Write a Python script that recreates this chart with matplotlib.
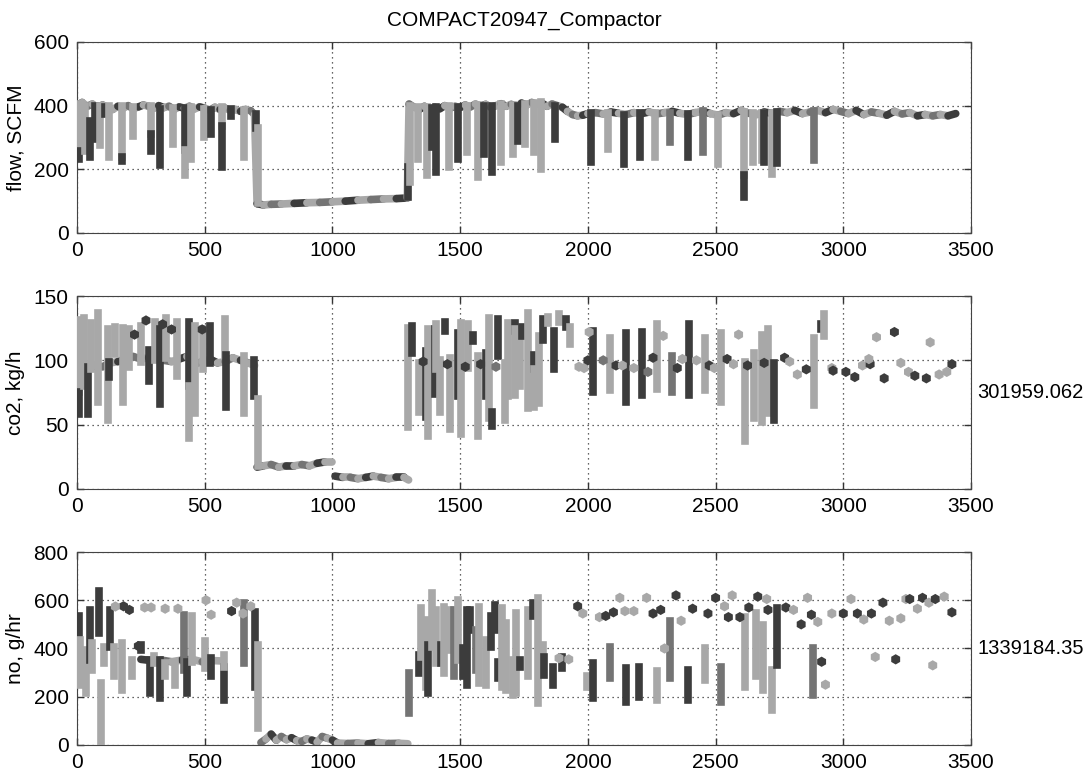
import matplotlib.pyplot as plt
import numpy as np

plt.rcParams['font.family'] = ['Liberation Sans', 'DejaVu Sans']
plt.rcParams['font.size'] = 15

nan = np.nan

# grey shades used for the individual cycles (d=dark, m=medium, l=light)
shade = {'d': '#3c3c3c', 'm': '#747474', 'l': '#a8a8a8'}
cycle = 'dlml'

title = 'COMPACT20947_Compactor'
xticks = [0, 500, 1000, 1500, 2000, 2500, 3000, 3500]

# ---------------- flow, SCFM ----------------
flow_base_x = [0, 20, 40, 60, 80, 100, 120, 140, 160, 180, 200, 220, 240, 260, 280, 300, 320, 340,
               360, 380, 400, 420, 440, 460, 480, 500, 520, 540, 560, 580, 600, 620, 640, 660, 680, 695,
               705, 730, 760, 800, 850, 900, 950, 1000, 1050, 1100, 1150, 1200, 1250, 1293,
               1300, 1320, 1340, 1360, 1380, 1400, 1420, 1440, 1460, 1480, 1500, 1520, 1540, 1560,
               1580, 1600, 1620, 1640, 1660, 1680, 1700, 1720, 1740, 1760, 1780, 1800, 1820, 1840,
               1860, 1880, 1900, 1920, 1940, 1960, 1980, 2000, 2030, 2060, 2090, 2120, 2150, 2180,
               2210, 2240, 2270, 2300, 2330, 2360, 2390, 2420, 2450, 2480, 2510, 2540, 2570, 2600,
               2630, 2660, 2690, 2720, 2750, 2780, 2810, 2840, 2870, 2900, 2930, 2960, 2990, 3020,
               3050, 3080, 3110, 3140, 3170, 3200, 3230, 3260, 3290, 3320, 3350, 3380, 3410, 3440]
flow_base_y = [400, 410, 398, 405, 392, 402, 395, 388, 398, 392, 400, 390, 396, 402, 398, 392, 400, 394,
               398, 388, 396, 392, 398, 390, 396, 392, 386, 395, 388, 392, 385, 388, 382, 388, 384, 372,
               92, 88, 90, 91, 93, 95, 96, 98, 100, 103, 105, 107, 108, 110,
               405, 395, 388, 398, 385, 395, 390, 400, 392, 398, 394, 402, 396, 405,
               398, 404, 395, 400, 406, 398, 404, 396, 408, 402, 410, 404, 408, 398,
               405, 400, 395, 382, 372, 368, 370, 375, 378, 374, 380, 376, 372, 378,
               375, 380, 374, 378, 382, 376, 372, 378, 382, 375, 370, 378, 375, 385,
               376, 372, 380, 376, 382, 378, 385, 375, 380, 385, 378, 388, 382, 375,
               385, 372, 380, 376, 370, 382, 374, 378, 368, 372, 368, 372, 368, 375]
flow_bar_x = [9, 9, 33, 52, 72, 91, 111, 124, 176, 176,
              218, 290, 290, 323, 375, 424, 424, 447, 497, 525,
              567, 567, 602, 655, 702, 708,
              1297, 1302, 1335, 1370, 1388, 1405, 1455, 1490, 1525, 1570,
              1595, 1625, 1660, 1705, 1728, 1755, 1790, 1815, 1870,
              2013, 2080, 2143, 2203, 2263, 2320, 2390, 2450, 2510, 2610,
              2610, 2645, 2680, 2690, 2720, 2740, 2885]
flow_bar_top = [405, 259, 400, 353, 398, 398, 395, 398, 398, 240,
                396, 398, 310, 390, 394, 392, 260, 396, 390, 386,
                395, 335, 388, 385, 375, 330,
                208, 400, 395, 395, 392, 395, 398, 395, 400, 402,
                398, 400, 405, 402, 400, 405, 408, 410, 398,
                378, 376, 372, 376, 376, 378, 375, 382, 372, 380,
                181, 376, 378, 376, 376, 380, 382]
flow_bar_bot = [259, 233, 259, 238, 296, 275, 374, 238, 240, 225,
                306, 310, 259, 212, 280, 260, 181, 233, 301, 311,
                335, 207, 369, 238, 330, 95,
                113, 160, 233, 181, 269, 191, 207, 233, 254, 175,
                249, 191, 222, 249, 290, 280, 254, 201, 296,
                222, 264, 217, 238, 238, 285, 240, 254, 217, 181,
                113, 222, 228, 222, 186, 219, 230]
flow_bar_c = 'ldlddldlld' + 'llddldllld' + 'lddldl' + 'dlllddldll' + 'ddlldllld' + 'dlddlmdmll' + 'dlldldm'

# ---------------- co2, kg/h ----------------
co2_base_x = [40, 70, 100, 130, 160, 190, 220, 250, 280, 310, 340, 370, 400, 430, 460, 490, 520, 550,
              580, 610, 640, 670, 695, 700,
              705, 730, 760, 790, 820, 850, 880, 910, 940, 970, 1000, 1003,
              1010, 1040, 1070, 1100, 1130, 1160, 1190, 1220, 1250, 1280, 1298]
co2_base_y = [93, 96, 95, 98, 99, 101, 103, 101, 102, 103, 100, 99, 101, 103, 97, 99, 101, 98,
              99, 102, 100, 98, 96, nan,
              17, 18, 19, 17, 18, 18, 19, 18, 20, 21, 21, nan,
              10, 9, 9, 8, 9, 10, 9, 8, 9, 9, 7]
co2_bar_x = [9, 9, 26, 41, 56, 83, 120, 124, 150, 180,
             205, 250, 280, 305, 325, 350, 390, 440, 440, 463,
             495, 520, 580, 582, 655, 693, 708,
             1296, 1310, 1340, 1366, 1375, 1400, 1405, 1420, 1440, 1462,
             1492, 1505, 1530, 1550, 1570, 1600, 1613, 1625, 1650, 1675,
             1688, 1713, 1715, 1735, 1743, 1765, 1790, 1790, 1810, 1825,
             1845, 1868, 1885, 1913, 1930,
             2020, 2085, 2150, 2210, 2270, 2330, 2395, 2460, 2520, 2615,
             2650, 2680, 2705, 2730, 2885, 2912, 2925]
co2_bar_top = [131, 75, 133, 95, 129, 137, 124, 99, 126, 125,
               124, 127, 108, 130, 124, 133, 130, 130, 80, 127,
               124, 127, 132, 104, 103, 100, 70,
               125, 127, 98, 107, 124, 124, 128, 100, 130, 102,
               121, 129, 128, 120, 103, 106, 133, 60, 132, 98,
               129, 129, 124, 121, 126, 137, 104, 93, 119, 132,
               134, 123, 136, 132, 126,
               123, 117, 121, 122, 128, 103, 128, 117, 121, 99,
               106, 120, 124, 98, 117, 128, 136]
co2_bar_bot = [75, 58, 80, 58, 93, 68, 54, 87, 105, 68,
               95, 99, 84, 100, 66, 102, 88, 80, 40, 59,
               93, 98, 104, 64, 59, 72, 18,
               48, 106, 60, 56, 41, 74, 93, 60, 123, 47,
               72, 43, 94, 115, 41, 72, 55, 49, 103, 54,
               72, 123, 73, 80, 119, 63, 93, 64, 67, 116,
               129, 93, 130, 126, 113,
               75, 77, 68, 73, 78, 75, 73, 77, 68, 37,
               55, 52, 59, 54, 65, 124, 119]
co2_bar_c = ('ldldllldll' + 'lldldlldll' + 'ldldldl' + 'ldldldlldl' + 'dlldldlddl'
             + 'ldlldldlld' + 'ldldl' + 'dlddlmdlll' + 'llldldl')
co2_dot_x = [225, 270, 335, 370, 490,
             1355, 1450, 1520, 1580, 1640,
             1965, 1985, 2005, 2000, 2060, 2110, 2135, 2180, 2235, 2255,
             2295, 2350, 2370, 2425, 2475, 2495, 2545, 2570, 2590, 2625,
             2690, 2770, 2790, 2820, 2855, 2955, 2960, 3010, 3045, 3075,
             3105, 3100, 3130, 3160, 3200, 3225, 3255, 3280, 3325, 3340,
             3375, 3405, 3425]
co2_dot_y = [120, 131, 128, 124, 124,
             99, 97, 95, 97, 95,
             95, 94, 122, 100, 100, 96, 96, 94, 91, 102,
             119, 94, 101, 100, 96, 94, 101, 97, 120, 96,
             98, 102, 99, 89, 93, 94, 92, 91, 87, 96,
             97, 101, 118, 86, 122, 98, 91, 88, 86, 114,
             89, 91, 97]
co2_dot_c = 'ddddd' + 'ddddm' + 'llldmdllmd' + 'ldlldldlld' + 'ddlldldddl' + 'dllddllddl' + 'lld'
co2_total = '301959.062'

# ---------------- no, g/hr ----------------
no_base_x = [250, 290, 330, 370, 410, 450, 490, 530, 570, 600,
             720, 740, 760, 780, 800, 820, 840, 860, 880, 900, 920, 940,
             960, 980, 1000, 1020, 1060, 1100, 1140, 1180, 1220, 1260, 1295]
no_base_y = [355, 350, 352, 345, 352, 355, 345, 350, 348, nan,
             10, 25, 45, 20, 35, 22, 30, 18, 15, 25, 20, 12,
             35, 28, 20, 8, 6, 8, 5, 10, 6, 7, 5]
no_bar_x = [9, 12, 26, 36, 50, 60, 85, 95, 105, 130,
            143, 178, 217, 250, 285, 300, 325, 345, 385, 420,
            432, 450, 500, 525, 575, 575, 655, 695, 710,
            1300, 1340, 1345, 1365, 1375, 1390, 1405, 1425, 1435, 1460,
            1475, 1490, 1510, 1525, 1540, 1560, 1575, 1600, 1620, 1637,
            1650, 1665, 1680, 1705, 1720, 1735, 1765, 1785, 1805, 1825,
            1830, 1865, 1900, 1995,
            2020, 2085, 2150, 2200, 2270, 2320, 2390, 2460, 2520, 2616,
            2660, 2685, 2720, 2740, 2880]
no_bar_top = [533, 436, 394, 347, 560, 422, 637, 256, 408, 560,
              408, 422, 353, 415, 353, 367, 353, 339, 346, 540,
              346, 533, 429, 360, 325, 373, 588, 553, 415,
              297, 373, 567, 519, 415, 630, 560, 415, 574, 560,
              560, 601, 401, 560, 560, 477, 574, 436, 533, 580,
              346, 567, 505, 353, 547, 353, 560, 588, 609, 415,
              366, 325, 366, 284,
              339, 408, 318, 325, 305, 512, 311, 401, 325, 532,
              546, 498, 311, 567, 401]
no_bar_bot = [353, 249, 290, 214, 353, 311, 463, 7, 339, 408,
              284, 228, 284, 395, 214, 339, 194, 284, 249, 312,
              214, 346, 318, 284, 187, 325, 339, 242, 69,
              131, 297, 366, 242, 214, 408, 339, 339, 298, 394,
              284, 353, 284, 249, 477, 311, 256, 249, 408, 477,
              277, 242, 228, 208, 214, 325, 284, 533, 173, 380,
              291, 249, 318, 242,
              194, 277, 180, 200, 187, 277, 187, 270, 180, 242,
              284, 228, 145, 332, 208]
no_bar_c = ('dllldldlld' + 'lllddldllm' + 'dllddlmdl' + 'mdlldlldll' + 'mldddmlldd'
            + 'dlllldldll' + 'dddl' + 'dmddlmdlml' + 'llldm')
no_dot_x = [182, 205, 240, 265, 290, 345, 395, 505, 525, 605, 625, 650, 680, 150,
            1887, 1925, 1960, 1980, 2045, 2070, 2100, 2125, 2145, 2180,
            2230, 2255, 2285, 2300, 2345, 2365, 2410, 2470, 2500, 2535,
            2550, 2565, 2595, 2630, 2665, 2700, 2705, 2775, 2805, 2835,
            2860, 2875, 2900, 2915, 2930, 2955, 3000, 3030, 3055, 3080,
            3110, 3125, 3155, 3180, 3205, 3225, 3245, 3260, 3290, 3310,
            3335, 3350, 3360, 3395, 3425]
no_dot_y = [575, 560, 410, 570, 570, 565, 565, 600, 540, 555, 590, 545, 575, 574,
            360, 355, 575, 545, 530, 535, 550, 610, 555, 555,
            610, 545, 560, 400, 620, 515, 565, 545, 610, 575,
            530, 620, 530, 570, 615, 605, 560, 570, 560, 500,
            610, 540, 510, 345, 250, 545, 545, 605, 545, 520,
            545, 365, 590, 515, 355, 525, 605, 605, 565, 610,
            590, 330, 605, 615, 550]
no_dot_c = ('dddlllllldllll' + 'lldllddlll' + 'lddldldddl' + 'dldddlddld'
            + 'ldldlldldl' + 'dldldlldld' + 'lldld')
no_total = '1339184.35'

fig = plt.figure(figsize=(10.88, 7.8), dpi=100)
ax1 = fig.add_axes([0.0708, 0.7013, 0.8217, 0.2449])
ax2 = fig.add_axes([0.0708, 0.3731, 0.8217, 0.2474])
ax3 = fig.add_axes([0.0708, 0.0449, 0.8217, 0.2474])

lw = 5.5


def draw(ax, bx, by, bar_x, bar_top, bar_bot, bar_c, dot_x=None, dot_y=None, dot_c=None):
    # trace, one short piece per cycle so the grey changes along it
    for i in range(len(bx) - 1):
        if np.isnan(by[i]) or np.isnan(by[i + 1]):
            continue
        ax.plot(bx[i:i + 2], by[i:i + 2], color=shade[cycle[i % len(cycle)]], lw=lw,
                solid_capstyle='round', zorder=2)
    ax.vlines(bar_x, bar_bot, bar_top, colors=[shade[c] for c in bar_c], lw=lw,
              capstyle='projecting', zorder=3)
    if dot_x is not None:
        ax.scatter(dot_x, dot_y, s=55, c=[shade[c] for c in dot_c], marker='h', lw=0, zorder=3)


draw(ax1, flow_base_x, flow_base_y, flow_bar_x, flow_bar_top, flow_bar_bot, flow_bar_c)
draw(ax2, co2_base_x, co2_base_y, co2_bar_x, co2_bar_top, co2_bar_bot, co2_bar_c,
     co2_dot_x, co2_dot_y, co2_dot_c)
draw(ax3, no_base_x, no_base_y, no_bar_x, no_bar_top, no_bar_bot, no_bar_c,
     no_dot_x, no_dot_y, no_dot_c)

ax1.set_ylim(0, 600)
ax1.set_yticks([0, 200, 400, 600])
ax1.set_ylabel('flow, SCFM')
ax1.set_title(title, fontsize=15, pad=12)

# totals sit just right of the axes; kept small enough to fit inside the figure
ax2.set_ylim(0, 150)
ax2.set_yticks([0, 50, 100, 150])
ax2.set_ylabel('co2, kg/h')
ax2.text(1.007, 0.5, co2_total, transform=ax2.transAxes, va='center', ha='left',
         fontsize=14.5, clip_on=False)

ax3.set_ylim(0, 800)
ax3.set_yticks([0, 200, 400, 600, 800])
ax3.set_ylabel('no, g/hr')
ax3.text(1.007, 0.5, no_total, transform=ax3.transAxes, va='center', ha='left',
         fontsize=14.5, clip_on=False)

for ax in (ax1, ax2, ax3):
    ax.set_xlim(0, 3500)
    ax.set_xticks(xticks)
    ax.grid(True, color='#333333', linestyle=(0, (1, 3)), linewidth=0.9)
    ax.set_axisbelow(True)
    ax.tick_params(direction='in', top=True, right=True, length=5, width=1, colors='#333333',
                   labelcolor='black', pad=6)
    for s in ax.spines.values():
        s.set_color('#444444')
    ax.yaxis.labelpad = 6

plt.savefig('out.png', dpi=100)
